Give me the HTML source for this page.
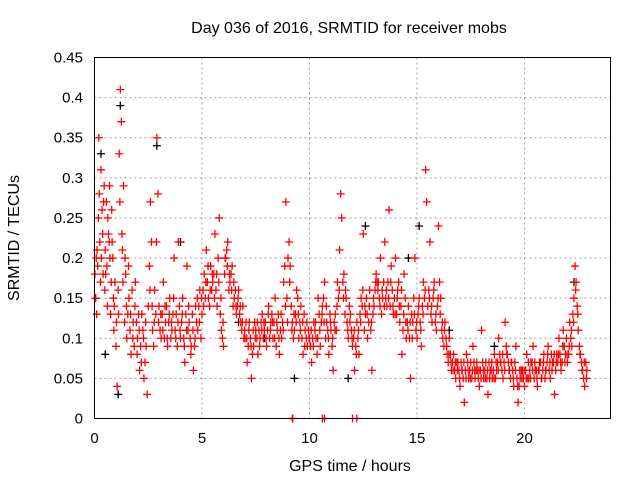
<!DOCTYPE html>
<html><head><meta charset="utf-8"><style>
body{margin:0;background:#fff}
svg{display:block;font-family:"Liberation Sans",sans-serif}
</style></head><body>
<svg id="c" width="640" height="480" viewBox="0 0 640 480">
<text x="349" y="33" font-size="16" text-anchor="middle">Day 036 of 2016, SRMTID for receiver mobs</text>
<text x="350" y="471" font-size="16" text-anchor="middle">GPS time / hours</text>
<text transform="translate(19,238) rotate(-90)" font-size="16" text-anchor="middle">SRMTID / TECUs</text>
<g id="grid"></g>
<g id="ticks"></g>
<g id="black"></g>
<g id="red"></g>
<rect x="94.5" y="57.5" width="516" height="361" fill="none" stroke="#000"/>
</svg>
<script>
const xTicks=[0,5,10,15,20];
const yTicks=[0,0.05,0.1,0.15,0.2,0.25,0.3,0.35,0.4,0.45];
const yTickLabels=["0","0.05","0.1","0.15","0.2","0.25","0.3","0.35","0.4","0.45"];
const redSamples=[[0.05,.15],[0.1,.13],[0.15,.19],[0.2,.35],[0.25,.22],[0.3,.31],[0.35,.26],[0.4,.18],[0.45,.29],[0.5,.21],[0.55,.27],[0.6,.14],[0.65,.23],[0.7,.29],[0.75,.13],[0.8,.26],[0.85,.2],[0.9,.11],[0.95,.17],
[1.0,.09],[1.05,.04],[1.1,.16],[1.15,.33],[1.2,.41],[1.25,.37],[1.3,.21],[1.35,.29],[1.4,.12],[1.45,.18],[1.5,.1],[1.6,.15],[1.7,.08],[1.8,.12],[1.9,.17],
[2.0,.1],[2.1,.06],[2.2,.13],[2.3,.05],[2.4,.09],[2.45,.03],[2.5,.14],[2.6,.27],[2.65,.22],[2.7,.11],[2.8,.16],[2.9,.35],[2.95,.28],[3.0,.14],
[3.1,.1],[3.2,.17],[3.3,.12],[3.4,.09],[3.5,.15],[3.6,.11],[3.7,.2],[3.8,.13],[3.9,.22],[4.0,.1],[4.1,.15],[4.2,.07],[4.3,.19],[4.4,.12],[4.5,.09],[4.6,.06],[4.7,.14],[4.8,.11],[4.9,.16],
[5.0,.13],[5.1,.18],[5.2,.21],[5.3,.15],[5.4,.19],[5.5,.17],[5.6,.23],[5.7,.14],[5.8,.25],[5.9,.11],[6.0,.09],[6.1,.2],[6.2,.22],[6.3,.17],[6.4,.19],[6.5,.15],[6.6,.13],[6.7,.16],[6.8,.12],[6.9,.14],
[7.0,.1],[7.1,.07],[7.2,.12],[7.3,.05],[7.4,.09],[7.5,.11],[7.6,.08],[7.7,.1],[7.8,.13],[7.9,.11],[8.0,.09],[8.1,.14],[8.2,.12],[8.3,.1],[8.4,.15],[8.5,.11],[8.6,.08],[8.7,.1],[8.8,.17],[8.9,.27],
[9.0,.2],[9.05,.22],[9.1,.19],[9.2,.12],[9.3,.11],[9.4,.16],[9.5,.1],[9.6,.14],[9.7,.08],[9.8,.11],[9.9,.09],[10.0,.1],[10.1,.07],[10.2,.12],[10.3,.1],[10.4,.15],[10.5,.09],[10.6,.14],[10.7,.17],[10.8,.12],[10.9,.08],
[11.0,.11],[11.1,.06],[11.2,.13],[11.3,.17],[11.4,.21],[11.45,.28],[11.5,.25],[11.6,.18],[11.7,.15],[11.8,.1],[11.9,.13],[12.0,.09],[12.1,.06],[12.2,.12],[12.3,.08],[12.4,.15],[12.5,.23],[12.6,.13],[12.7,.1],[12.8,.16],[12.9,.06],
[13.0,.14],[13.1,.18],[13.2,.17],[13.3,.2],[13.4,.15],[13.5,.22],[13.6,.14],[13.7,.26],[13.8,.19],[13.9,.13],[14.0,.2],[14.1,.16],[14.2,.12],[14.3,.08],[14.4,.18],[14.5,.1],[14.6,.14],[14.7,.05],[14.8,.12],[14.9,.2],
[15.0,.1],[15.1,.15],[15.2,.09],[15.3,.17],[15.4,.31],[15.45,.27],[15.5,.14],[15.6,.22],[15.7,.12],[15.8,.17],[15.9,.11],[16.0,.24],[16.1,.15],[16.2,.1],[16.3,.12],[16.4,.08],[16.5,.1],[16.6,.06],[16.7,.08],[16.8,.05],[16.9,.07],
[17.0,.04],[17.1,.06],[17.2,.02],[17.3,.08],[17.4,.05],[17.5,.07],[17.6,.09],[17.7,.05],[17.8,.06],[17.9,.04],[18.0,.11],[18.1,.05],[18.2,.07],[18.3,.03],[18.4,.06],[18.5,.05],[18.6,.08],[18.7,.06],[18.8,.1],[18.9,.07],
[19.0,.05],[19.1,.12],[19.2,.08],[19.3,.06],[19.4,.07],[19.5,.04],[19.6,.09],[19.7,.02],[19.8,.05],[19.9,.06],[20.0,.04],[20.1,.08],[20.2,.05],[20.3,.07],[20.4,.09],[20.5,.06],[20.6,.04],[20.7,.07],[20.8,.05],[20.9,.08],
[21.0,.06],[21.1,.09],[21.2,.05],[21.3,.07],[21.4,.03],[21.5,.08],[21.6,.1],[21.7,.06],[21.8,.11],[21.9,.08],[22.0,.07],[22.1,.12],[22.2,.09],[22.3,.15],[22.35,.19],[22.4,.17],[22.5,.11],[22.6,.08],[22.7,.06],[22.8,.04],[22.9,.06],
[0.08,.2],[0.18,.25],[0.28,.17],[0.38,.23],[0.48,.16],[0.58,.19],[0.68,.22],[0.78,.17],[0.88,.15],[1.12,.13],[1.28,.23],[1.42,.2],[1.55,.13],[1.65,.11],[1.75,.16],[1.85,.09],[1.95,.12],[2.05,.13],[2.15,.09],[2.25,.11],[2.35,.07],[2.55,.19],[2.75,.09],[2.85,.13],
[3.05,.11],[3.15,.13],[3.25,.1],[3.35,.14],[3.45,.12],[3.55,.1],[3.65,.13],[3.75,.11],[3.85,.09],[3.95,.14],[4.05,.12],[4.15,.1],[4.25,.13],[4.35,.11],[4.45,.1],[4.55,.13],[4.65,.09],[4.75,.12],[4.85,.14],[4.95,.1],
[5.05,.16],[5.15,.15],[5.25,.17],[5.35,.14],[5.45,.16],[5.55,.18],[5.65,.16],[5.75,.2],[5.85,.13],[5.95,.1],[6.05,.18],[6.15,.21],[6.25,.16],[6.35,.18],[6.45,.14],[6.55,.16],[6.65,.14],[6.75,.13],[6.85,.11],[6.95,.1],
[7.05,.12],[7.15,.09],[7.25,.1],[7.35,.08],[7.45,.12],[7.55,.1],[7.65,.11],[7.75,.12],[7.85,.1],[7.95,.12],[8.05,.11],[8.15,.1],[8.25,.13],[8.35,.12],[8.45,.09],[8.55,.13],[8.65,.11],[8.75,.12],[8.85,.19],[8.95,.15],
[9.15,.14],[9.25,.1],[9.35,.13],[9.45,.15],[9.55,.12],[9.65,.1],[9.75,.13],[9.85,.1],[9.95,.11],[10.05,.09],[10.15,.1],[10.25,.11],[10.35,.08],[10.45,.13],[10.55,.12],[10.65,.15],[10.75,.1],[10.85,.11],[10.95,.13],
[11.05,.09],[11.15,.12],[11.25,.11],[11.35,.15],[11.55,.17],[11.65,.13],[11.75,.12],[11.85,.14],[11.95,.11],[12.05,.1],[12.15,.09],[12.25,.1],[12.35,.13],[12.45,.14],[12.55,.11],[12.65,.15],[12.75,.12],[12.85,.11],[12.95,.13],
[13.05,.16],[13.15,.17],[13.25,.15],[13.35,.13],[13.45,.17],[13.55,.15],[13.65,.17],[13.75,.14],[13.85,.16],[13.95,.15],[14.05,.13],[14.15,.17],[14.25,.14],[14.35,.11],[14.45,.15],[14.55,.12],[14.65,.1],[14.75,.13],[14.85,.15],[14.95,.11],
[15.05,.13],[15.15,.12],[15.25,.14],[15.35,.15],[15.55,.16],[15.65,.13],[15.75,.15],[15.85,.12],[15.95,.14],[16.05,.17],[16.15,.11],[16.25,.09],[16.35,.1],[16.45,.07],[16.55,.08],[16.65,.07],[16.75,.06],[16.85,.07],[16.95,.06],
[17.05,.07],[17.15,.05],[17.25,.06],[17.35,.07],[17.45,.06],[17.55,.05],[17.65,.07],[17.75,.06],[17.85,.05],[17.95,.06],[18.05,.07],[18.15,.06],[18.25,.05],[18.35,.07],[18.45,.06],[18.55,.06],[18.65,.05],[18.75,.07],[18.85,.08],[18.95,.06],
[19.05,.07],[19.15,.09],[19.25,.07],[19.35,.05],[19.45,.06],[19.55,.07],[19.65,.05],[19.75,.04],[19.85,.06],[19.95,.05],[20.05,.06],[20.15,.05],[20.25,.06],[20.35,.07],[20.45,.05],[20.55,.06],[20.65,.06],[20.75,.07],[20.85,.06],[20.95,.05],
[21.05,.07],[21.15,.06],[21.25,.08],[21.35,.07],[21.45,.06],[21.55,.07],[21.65,.08],[21.75,.07],[21.85,.09],[21.95,.1],[22.05,.08],[22.15,.1],[22.25,.13],[22.45,.14],[22.55,.09],[22.65,.07],[22.75,.05],[22.85,.07],
[0.02,.18],[0.12,.21],[0.22,.28],[0.32,.2],[0.42,.27],[0.52,.18],[0.62,.25],[0.72,.2],[0.82,.22],[0.92,.14],[1.02,.12],[1.18,.27],[1.32,.17],[1.48,.14],[1.58,.19],[1.68,.13],[1.78,.1],[1.88,.14],[1.98,.08],
[2.08,.11],[2.18,.07],[2.28,.1],[2.38,.12],[2.58,.16],[2.68,.14],[2.78,.12],[2.88,.22],[2.98,.12],[3.08,.13],[3.18,.11],[3.28,.14],[3.38,.1],[3.48,.13],[3.58,.12],[3.68,.15],[3.78,.1],[3.88,.12],[3.98,.11],
[4.08,.13],[4.18,.09],[4.28,.11],[4.38,.14],[4.48,.08],[4.58,.11],[4.68,.1],[4.78,.15],[4.88,.12],[4.98,.15],[5.08,.14],[5.18,.17],[5.28,.19],[5.38,.16],[5.48,.18],[5.58,.15],[5.68,.18],[5.78,.17],[5.88,.15],[5.98,.12],
[6.08,.2],[6.18,.19],[6.28,.18],[6.38,.16],[6.48,.17],[6.58,.14],[6.68,.15],[6.78,.14],[6.88,.12],[6.98,.11],[7.08,.1],[7.18,.11],[7.28,.09],[7.38,.11],[7.48,.1],[7.58,.12],[7.68,.09],[7.78,.11],[7.88,.12],[7.98,.1],
[8.08,.13],[8.18,.11],[8.28,.12],[8.38,.1],[8.48,.12],[8.58,.1],[8.68,.13],[8.78,.11],[8.88,.14],[8.98,.12],[9.08,.17],[9.18,.11],[9.28,.13],[9.38,.12],[9.48,.13],[9.58,.11],[9.68,.12],[9.78,.09],[9.88,.12],[9.98,.1],
[10.08,.11],[10.18,.09],[10.28,.12],[10.38,.1],[10.48,.11],[10.58,.13],[10.68,.12],[10.78,.14],[10.88,.1],[10.98,.12],[11.08,.1],[11.18,.11],[11.28,.14],[11.38,.16],[11.58,.15],[11.68,.16],[11.78,.11],[11.88,.12],[11.98,.1],
[12.08,.11],[12.18,.08],[12.28,.11],[12.38,.12],[12.48,.16],[12.58,.14],[12.68,.13],[12.78,.14],[12.88,.12],[12.98,.15],[13.08,.17],[13.18,.16],[13.28,.14],[13.38,.16],[13.48,.14],[13.58,.16],[13.68,.15],[13.78,.17],[13.88,.14],[13.98,.13],
[14.08,.15],[14.18,.14],[14.28,.16],[14.38,.13],[14.48,.12],[14.58,.11],[14.68,.12],[14.78,.1],[14.88,.13],[14.98,.12],[15.08,.14],[15.18,.11],[15.28,.13],[15.38,.16],[15.58,.15],[15.68,.14],[15.78,.16],[15.88,.13],[15.98,.15],
[16.08,.13],[16.18,.12],[16.28,.11],[16.38,.09],[16.48,.08],[16.58,.07],[16.68,.06],[16.78,.07],[16.88,.06],[16.98,.05],[17.08,.06],[17.18,.07],[17.28,.05],[17.38,.06],[17.48,.05],[17.58,.06],[17.68,.06],[17.78,.07],[17.88,.06],[17.98,.05],
[18.08,.06],[18.18,.05],[18.28,.06],[18.38,.05],[18.48,.07],[18.58,.05],[18.68,.07],[18.78,.06],[18.88,.07],[18.98,.08],[19.08,.06],[19.18,.08],[19.28,.06],[19.38,.07],[19.48,.05],[19.58,.06],[19.68,.04],[19.78,.06],[19.88,.05],[19.98,.06],
[20.08,.05],[20.18,.07],[20.28,.05],[20.38,.06],[20.48,.07],[20.58,.05],[20.68,.06],[20.78,.05],[20.88,.07],[20.98,.06],[21.08,.08],[21.18,.07],[21.28,.06],[21.38,.08],[21.48,.07],[21.58,.08],[21.68,.07],[21.78,.09],[21.88,.07],[21.98,.08],
[22.08,.09],[22.18,.11],[22.28,.12],[22.38,.16],[22.48,.13],[22.58,.08],[22.68,.06],[22.78,.07],[22.88,.05],
[9.2,0],[9.22,0],[10.6,0],[10.7,0],[12.0,0],[12.2,0]];
const blackSamples=[[0.05,.15],[0.3,.33],[0.5,.08],[1.2,.39],[1.1,.03],[2.9,.34],[4.0,.22],[6.7,.12],[7.9,.1],[9.3,.05],[11.8,.05],[12.6,.24],[14.6,.2],[15.1,.24],[16.5,.11],[18.6,.09],[22.3,.17]];
const X=h=>94.5+h*21.5;
const Y=v=>418.5-v*(361/0.45);
const NS='http://www.w3.org/2000/svg';
function mk(tag,attrs,parent){const e=document.createElementNS(NS,tag);for(const k in attrs)e.setAttribute(k,attrs[k]);parent.appendChild(e);return e;}
const grid=document.getElementById('grid'),ticks=document.getElementById('ticks');
xTicks.forEach(t=>{
  const x=X(t);
  if(t>0){const g=mk('line',{x1:x,x2:x,y1:57.5,y2:418.5,stroke:'#a0a0a0','stroke-dasharray':'2,3'},grid);
  
  }
  const l=mk('text',{x:x,y:443,'font-size':15,'text-anchor':'middle'},ticks);l.textContent=t;
  
  
});
yTicks.forEach((t,i)=>{
  const y=Y(t);
  if(t>0&&t<0.45){const g=mk('line',{x1:94.5,x2:610.5,y1:y,y2:y,stroke:'#a0a0a0','stroke-dasharray':'2,3'},grid);
  
  }
  const l=mk('text',{x:83,y:y+5,'font-size':15,'text-anchor':'end'},ticks);l.textContent=yTickLabels[i];
  
  
});
function plus(g,s,color){
  const x=X(s[0]),y=Y(s[1]);
  const p=mk('path',{d:`M${x-4},${y}h8M${x},${y-4}v8`,stroke:color,'stroke-width':1.3,fill:'none'},g);
  
  
}
const bg=document.getElementById('black'),rg=document.getElementById('red');
blackSamples.forEach(s=>plus(bg,s,'#000'));
redSamples.forEach(s=>plus(rg,s,'#f00'));
</script>
</body></html>
